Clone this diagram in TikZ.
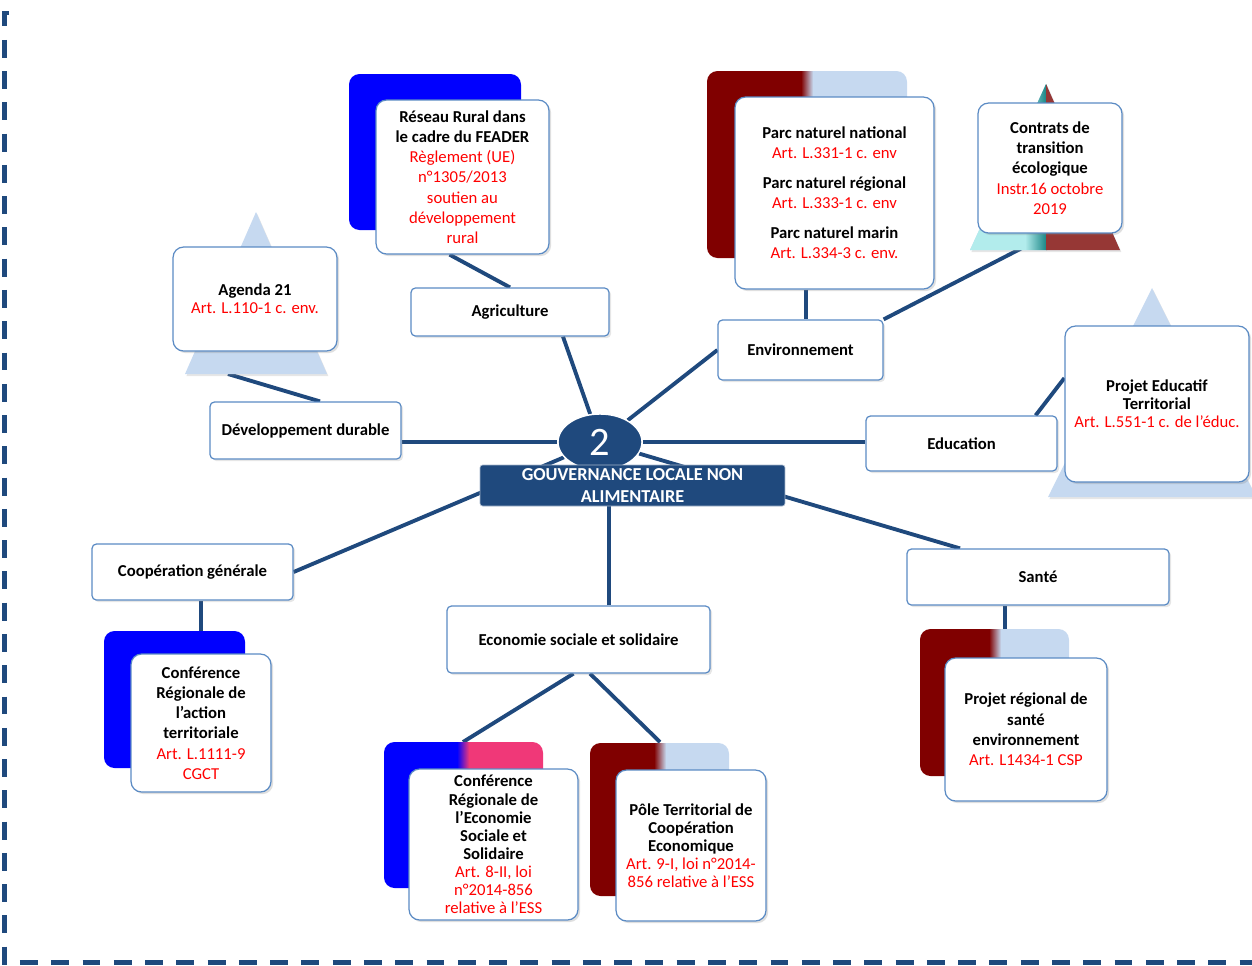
\documentclass[tikz,border=0pt]{standalone}
\usepackage{fontspec}
\setmainfont{Carlito}
\usetikzlibrary{shapes.geometric,shadows}
\definecolor{linkblue}{RGB}{31,73,125}
\definecolor{cardline}{RGB}{91,139,196}
\definecolor{backblue}{RGB}{0,0,255}
\definecolor{backred}{RGB}{128,0,0}
\definecolor{backsky}{RGB}{198,217,240}
\definecolor{backpink}{RGB}{240,56,120}
\definecolor{lawred}{RGB}{255,0,0}
\definecolor{tricyan}{RGB}{178,236,236}
\definecolor{triteal}{RGB}{20,130,130}
\definecolor{trired}{RGB}{150,55,53}
\pgfdeclarelayer{back}
\pgfsetlayers{back,main}
\tikzset{
  link/.style={linkblue, line width=2.2pt},
  theme/.style={draw=cardline, fill=white, rounded corners=2.5pt, line width=0.7pt,
    font=\fontsize{9.5}{11}\selectfont\bfseries,
    drop shadow={opacity=0.2, shadow xshift=1.2pt, shadow yshift=-1.2pt}},
  card/.style={draw=cardline, fill=white, rounded corners=6pt, line width=0.7pt, align=center,
    font=\fontsize{9.5}{11.5}\selectfont,
    drop shadow={opacity=0.25, shadow xshift=1.2pt, shadow yshift=-1.2pt}},
  tightcard/.style={card, font=\fontsize{9.5}{10.3}\selectfont},
  backcard/.style={rounded corners=6pt},
  tri/.style={fill=backsky, drop shadow={opacity=0.2, shadow xshift=0.8pt, shadow yshift=-1.2pt}}
}
\begin{document}
\begin{tikzpicture}[x=0.02cm, y=-0.02cm]
\useasboundingbox (0,0) rectangle (1252,965);

% frame
\draw[linkblue, line width=2.6pt, dash pattern=on 10.2pt off 7.6pt] (9,13) -- (4.5,13) -- (4.5,962.5) -- (1262,962.5);

% centre
\node[ellipse, fill=linkblue, draw=white, line width=0.8pt, minimum width=1.68cm, minimum height=1.12cm,
  inner sep=0pt, text=white, font=\fontsize{23}{23}\selectfont] (c) at (600,442) {2};
\node[fill=linkblue, draw=white!60!linkblue, rounded corners=1.5pt, minimum width=6.1cm, minimum height=0.82cm,
  inner sep=0pt, text=white, align=center, font=\fontsize{10.4}{12.4}\selectfont\bfseries] (title) at (632.5,485.5)
  {GOUVERNANCE LOCALE NON\\ALIMENTAIRE};

% themes
\node[theme, minimum width=3.96cm, minimum height=0.96cm] (agri) at (510,312) {Agriculture};
\node[theme, minimum width=3.3cm, minimum height=1.2cm] (envi) at (800.5,350) {Environnement};
\node[theme, minimum width=3.82cm, minimum height=1.14cm] (devd) at (305.5,430.5) {Développement durable};
\node[theme, minimum width=3.82cm, minimum height=1.1cm] (educ) at (961.5,443.5) {Education};
\node[theme, minimum width=4.02cm, minimum height=1.12cm] (coop) at (192.5,572) {Coopération générale};
\node[theme, minimum width=5.26cm, minimum height=1.34cm] (ess) at (578.5,639.5) {Economie sociale et solidaire};
\node[theme, minimum width=5.24cm, minimum height=1.12cm] (sante) at (1038,577) {Santé};

% texts
\node[card, minimum width=3.46cm, minimum height=3.08cm] (reseau) at (462.5,177)
  {\textbf{Réseau Rural dans}\\\textbf{le cadre du FEADER}\\\textcolor{lawred}{Règlement (UE)}\\
   \textcolor{lawred}{n°1305/2013}\\\textcolor{lawred}{soutien au}\\\textcolor{lawred}{développement}\\\textcolor{lawred}{rural}};
\node[card, minimum width=3.98cm, minimum height=3.84cm] (parc) at (834.5,193)
  {\textbf{Parc naturel national}\\\textcolor{lawred}{Art. L.331-1 c. env}\\[5.5pt]
   \textbf{Parc naturel régional}\\\textcolor{lawred}{Art. L.333-1 c. env}\\[5.5pt]
   \textbf{Parc naturel marin}\\\textcolor{lawred}{Art. L.334-3 c. env.}};
\node[card, minimum width=2.88cm, minimum height=2.6cm] (ctrans) at (1050,168)
  {\textbf{Contrats de}\\\textbf{transition}\\\textbf{écologique}\\\textcolor{lawred}{Instr.16 octobre}\\\textcolor{lawred}{2019}};
\node[tightcard, minimum width=3.28cm, minimum height=2.08cm] (agenda) at (255,299)
  {\textbf{Agenda 21}\\\textcolor{lawred}{Art. L.110-1 c. env.}};
\node[tightcard, minimum width=3.68cm, minimum height=3.12cm] (pedt) at (1157,404)
  {\textbf{Projet Educatif}\\\textbf{Territorial}\\\textcolor{lawred}{Art. L.551-1 c. de l’éduc.}};
\node[card, minimum width=2.8cm, minimum height=2.76cm] (crat) at (201,723)
  {\textbf{Conférence}\\\textbf{Régionale de}\\\textbf{l’action}\\\textbf{territoriale}\\\textcolor{lawred}{Art. L.1111-9}\\\textcolor{lawred}{CGCT}};
\node[tightcard, minimum width=3.38cm, minimum height=3.02cm] (cress) at (493.5,844.5)
  {\textbf{Conférence}\\\textbf{Régionale de}\\\textbf{l’Economie}\\\textbf{Sociale et}\\\textbf{Solidaire}\\
   \textcolor{lawred}{Art. 8-II, loi}\\\textcolor{lawred}{n°2014-856}\\\textcolor{lawred}{relative à l’ESS}};
\node[tightcard, minimum width=3.0cm, minimum height=3.02cm] (ptce) at (691,845.5)
  {\textbf{Pôle Territorial de}\\\textbf{Coopération}\\\textbf{Economique}\\\textcolor{lawred}{Art. 9-I, loi n°2014-}\\\textcolor{lawred}{856 relative à l’ESS}};
\node[card, minimum width=3.24cm, minimum height=2.86cm] (prse) at (1026,729.5)
  {\textbf{Projet régional de}\\\textbf{santé}\\\textbf{environnement}\\\textcolor{lawred}{Art. L1434-1 CSP}};

\coordinate (a21base) at (228,374);
\coordinate (cresstop) at (463,742);
\coordinate (ptcetop) at (660,742);

\begin{pgfonlayer}{back}
% links
\draw[link] (c) -- ([xshift=1.06cm]agri.south);
\draw[link] (c) -- (envi.west);
\draw[link] (c) -- (c -| devd.east);
\draw[link] (c) -- (c -| educ.west);
\draw[link] (c) -- ([xshift=-1.56cm]sante.north);
\draw[link] (c) -- (coop.east);
\draw[link] ([xshift=0.61cm]ess.north) -- ([xshift=0.61cm]ess.north |- title.south);
\draw[link] ([xshift=-0.26cm]reseau.south) -- (agri.north);
\draw[link] ([xshift=-0.57cm]parc.south) -- ([xshift=-0.57cm]parc.south |- envi.north);
\draw[link] (ctrans.south) -- (envi.north east);
\draw[link] (a21base) -- ([xshift=0.29cm]devd.north);
\draw[link] ([xshift=-0.44cm]educ.north east) -- ([yshift=0.52cm]pedt.west);
\draw[link] ([xshift=-0.1cm]ess.south) -- (cresstop);
\draw[link] ([xshift=0.23cm]ess.south) -- (ptcetop);
\draw[link] (crat.north) -- (crat.north |- coop.south);
\draw[link] ([xshift=-0.42cm]prse.north) -- ([xshift=-0.42cm]prse.north |- sante.south);

% triangles
\fill[tri] (256,212) -- (327,374) -- (185,374) -- cycle;
\fill[tri] (1152,288) -- (1256,497) -- (1048,497) -- cycle;
\fill[tri] (1046,84) -- (1120,250) -- (970,250) -- cycle;
\begin{scope}
  \clip (1046,84) -- (1120,250) -- (970,250) -- cycle;
  \fill[tricyan] (960,80) rectangle (1026,260);
  \shade[left color=tricyan, right color=triteal] (1025,80) rectangle (1047,260);
  \fill[trired] (1046,80) rectangle (1130,260);
\end{scope}

% back cards
\fill[backcard, backblue] (349,74) rectangle (521,230);
\fill[backcard, backblue] (104,631) rectangle (245,768);
\begin{scope}
  \clip[backcard] (707,71) rectangle (907,258);
  \fill[backred] (700,60) rectangle (807,270);
  \fill[backsky] (807,60) rectangle (920,270);
  \shade[left color=backred, right color=backsky] (801,60) rectangle (813,270);
\end{scope}
\begin{scope}
  \clip[backcard] (384,742) rectangle (543,888);
  \fill[backblue] (380,730) rectangle (463,900);
  \fill[backpink] (463,730) rectangle (550,900);
  \shade[left color=backblue, right color=backpink] (457,730) rectangle (469,900);
\end{scope}
\begin{scope}
  \clip[backcard] (590,743) rectangle (729,896);
  \fill[backred] (580,730) rectangle (660,900);
  \fill[backsky] (660,730) rectangle (740,900);
  \shade[left color=backred, right color=backsky] (654,730) rectangle (666,900);
\end{scope}
\begin{scope}
  \clip[backcard] (920,629) rectangle (1069,776);
  \fill[backred] (910,620) rectangle (995,790);
  \fill[backsky] (995,620) rectangle (1080,790);
  \shade[left color=backred, right color=backsky] (989,620) rectangle (1001,790);
\end{scope}
\end{pgfonlayer}

\end{tikzpicture}
\end{document}
